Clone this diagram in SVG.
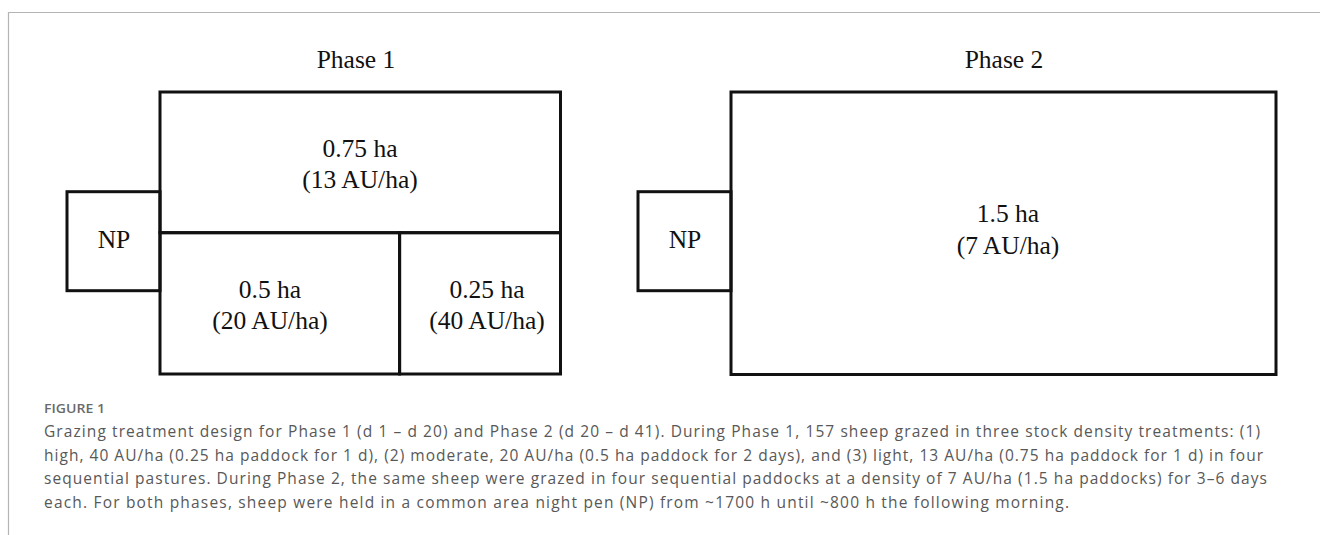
<svg xmlns="http://www.w3.org/2000/svg" width="1320" height="535" viewBox="0 0 1320 535">
  <style>
    .field { fill: none; stroke: #111; stroke-width: 3; }
    .lbl { font-family: "Liberation Serif", "Times New Roman", serif; font-size: 25.5px; fill: #111; text-anchor: middle; }
    .cap { font-family: "Open Sans", "Liberation Sans", sans-serif; font-size: 15.5px; fill: #585858; }
    .fig { font-family: "Open Sans", "Liberation Sans", sans-serif; font-size: 12.5px; font-weight: 600; fill: #6a6a6a; }
    .frame { fill: none; stroke: #b4b4b4; stroke-width: 1.2; }
  </style>

  <rect x="0" y="0" width="1320" height="535" fill="#ffffff"/>

  <!-- page frame -->
  <path class="frame" d="M8.5 535 V12.5 H1320"/>

  <!-- Phase 1 layout -->
  <g id="phase1-title">
    <text class="lbl" x="356" y="68">Phase 1</text>
  </g>
  <g id="np1">
    <rect class="field" x="67" y="191.7" width="93" height="99"/>
    <text class="lbl" x="114" y="248">NP</text>
  </g>
  <g id="paddock-075">
    <rect class="field" x="160" y="92" width="400.5" height="140.7"/>
    <text class="lbl" x="360" y="157">0.75 ha</text>
    <text class="lbl" x="360" y="188">(13 AU/ha)</text>
  </g>
  <g id="paddock-05">
    <rect class="field" x="160" y="232.7" width="239.6" height="141.3"/>
    <text class="lbl" x="270" y="298">0.5 ha</text>
    <text class="lbl" x="270" y="329">(20 AU/ha)</text>
  </g>
  <g id="paddock-025">
    <rect class="field" x="399.6" y="232.7" width="160.9" height="141.3"/>
    <text class="lbl" x="487" y="298">0.25 ha</text>
    <text class="lbl" x="487" y="329">(40 AU/ha)</text>
  </g>

  <!-- Phase 2 layout -->
  <g id="phase2-title">
    <text class="lbl" x="1004" y="68">Phase 2</text>
  </g>
  <g id="np2">
    <rect class="field" x="638" y="191.7" width="93" height="99"/>
    <text class="lbl" x="685" y="248">NP</text>
  </g>
  <g id="paddock-15">
    <rect class="field" x="731" y="92" width="545" height="282.5"/>
    <text class="lbl" x="1008" y="222">1.5 ha</text>
    <text class="lbl" x="1008" y="254">(7 AU/ha)</text>
  </g>

  <!-- figure caption -->
  <g id="caption">
    <text class="fig" x="44" y="413" textLength="61" lengthAdjust="spacingAndGlyphs">FIGURE 1</text>
    <text class="cap" x="44" y="437" textLength="1216" lengthAdjust="spacing">Grazing treatment design for Phase 1 (d 1 – d 20) and Phase 2 (d 20 – d 41). During Phase 1, 157 sheep grazed in three stock density treatments: (1)</text>
    <text class="cap" x="44" y="460.5" textLength="1219" lengthAdjust="spacing">high, 40 AU/ha (0.25 ha paddock for 1 d), (2) moderate, 20 AU/ha (0.5 ha paddock for 2 days), and (3) light, 13 AU/ha (0.75 ha paddock for 1 d) in four</text>
    <text class="cap" x="44" y="484" textLength="1223" lengthAdjust="spacing">sequential pastures. During Phase 2, the same sheep were grazed in four sequential paddocks at a density of 7 AU/ha (1.5 ha paddocks) for 3–6 days</text>
    <text class="cap" x="44" y="507.5" textLength="1025" lengthAdjust="spacing">each. For both phases, sheep were held in a common area night pen (NP) from ~1700 h until ~800 h the following morning.</text>
  </g>
</svg>
